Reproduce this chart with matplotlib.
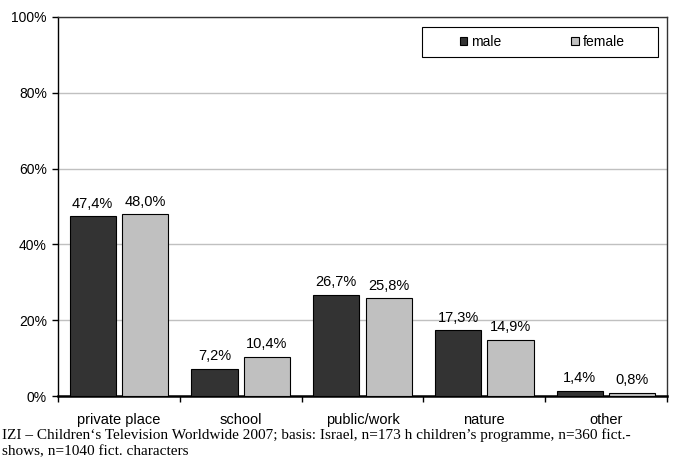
import numpy as np
import matplotlib
matplotlib.use("Agg")
import matplotlib.pyplot as plt
from matplotlib.patches import Rectangle
from matplotlib.ticker import FixedLocator

categories = ["private place", "school", "public/work", "nature", "other"]
male = [47.4, 7.2, 26.7, 17.3, 1.4]
female = [48.0, 10.4, 25.8, 14.9, 0.8]
series_names = ["male", "female"]
colors = ["#333333", "#c0c0c0"]
yticks = [0, 20, 40, 60, 80, 100]
caption_lines = [
    "IZI \u2013 Children\u2018s Television Worldwide 2007; basis: Israel, n=173 h children\u2019s programme, n=360 fict.-",
    "shows, n=1040 fict. characters",
]

plt.rcParams['font.family'] = ['Liberation Sans', 'DejaVu Sans']

fig = plt.figure(figsize=(6.74, 4.57), dpi=100)
ax = fig.add_axes([58 / 674, 1 - 396 / 457, 609 / 674, 379 / 457])

x = np.arange(len(categories))
w = 0.38
off = 0.215
for vals, name, col, sgn in zip([male, female], series_names, colors, [-1, 1]):
    bars = ax.bar(x + sgn * off, vals, w, color=col, edgecolor="black", linewidth=0.8,
                  label=name, zorder=3)
    for b, v in zip(bars, vals):
        ax.annotate(f"{v:.1f}%".replace(".", ","), (b.get_x() + b.get_width() / 2, v),
                    xytext=(0, 4), textcoords="offset points", ha="center", va="bottom",
                    fontsize=10.5)

ax.set_xlim(-0.5, len(categories) - 0.5)
ax.set_ylim(0, 100)
ax.set_yticks(yticks)
ax.set_yticklabels([f"{t}%" for t in yticks], fontsize=10)
ax.yaxis.grid(True, color="#c0c0c0", linewidth=1, zorder=0)
ax.set_axisbelow(True)

ax.set_xticks(x)
ax.set_xticklabels(categories, fontsize=10.5)
ax.tick_params(axis="x", which="major", length=0, pad=12)
ax.xaxis.set_minor_locator(FixedLocator(np.arange(len(categories) + 1) - 0.5))
ax.tick_params(axis="x", which="minor", length=4, width=1, direction="out")
ax.tick_params(axis="y", length=4, width=1, direction="out", pad=4)

ax.spines["bottom"].set_linewidth(1.8)
ax.spines["left"].set_linewidth(1.0)
for s in ["top", "right"]:
    ax.spines[s].set_linewidth(1.0)
    ax.spines[s].set_color("#333333")

# legend box
ax.add_patch(Rectangle((0.598, 0.894), 0.387, 0.08, transform=ax.transAxes,
                       facecolor="white", edgecolor="black", linewidth=0.8, zorder=5))
leg = ax.legend(loc="center", bbox_to_anchor=(0.795, 0.934), ncol=2, frameon=False,
                fontsize=10, handlelength=0.55, handleheight=0.55, handletextpad=0.3,
                columnspacing=5.0)
leg.set_zorder(6)

for line, yb in zip(caption_lines, [439, 455]):
    fig.text(2 / 674, 1 - yb / 457, line, fontsize=11, family=["Liberation Serif"],
             ha="left", va="baseline")

fig.savefig("out.png", dpi=100)
